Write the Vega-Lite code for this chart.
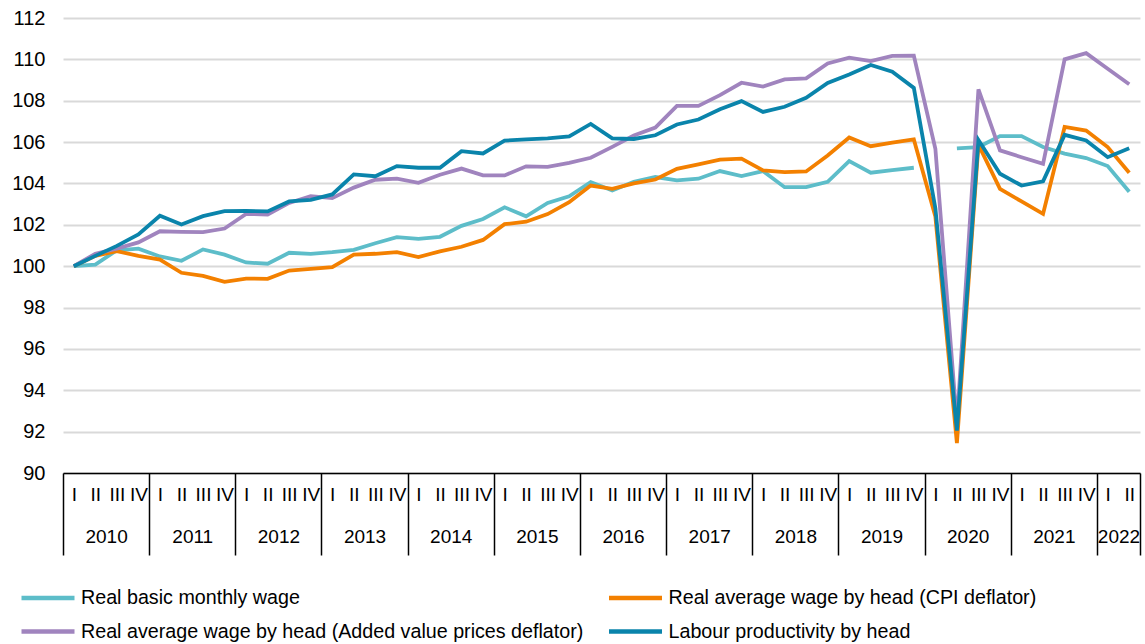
{
  "$schema": "https://vega.github.io/schema/vega-lite/v6.json",
  "width": 1077,
  "height": 455,
  "autosize": {"type": "none"},
  "padding": {"left": 63, "top": 18, "right": 5, "bottom": 171},
  "background": "white",
  "data": {
    "values": [
      {"q": 0, "basic": 100, "cpi": 100, "gva": 100, "prod": 100},
      {"q": 1, "basic": 100.08, "cpi": 100.5, "gva": 100.6, "prod": 100.5},
      {"q": 2, "basic": 100.77, "cpi": 100.73, "gva": 100.85, "prod": 100.98},
      {"q": 3, "basic": 100.85, "cpi": 100.5, "gva": 101.15, "prod": 101.53},
      {"q": 4, "basic": 100.47, "cpi": 100.32, "gva": 101.69, "prod": 102.44},
      {"q": 5, "basic": 100.26, "cpi": 99.68, "gva": 101.66, "prod": 102.02},
      {"q": 6, "basic": 100.81, "cpi": 99.53, "gva": 101.65, "prod": 102.42},
      {"q": 7, "basic": 100.56, "cpi": 99.24, "gva": 101.82, "prod": 102.66},
      {"q": 8, "basic": 100.18, "cpi": 99.4, "gva": 102.53, "prod": 102.67},
      {"q": 9, "basic": 100.12, "cpi": 99.39, "gva": 102.5, "prod": 102.65},
      {"q": 10, "basic": 100.65, "cpi": 99.79, "gva": 103.06, "prod": 103.13},
      {"q": 11, "basic": 100.6, "cpi": 99.87, "gva": 103.39, "prod": 103.21},
      {"q": 12, "basic": 100.68, "cpi": 99.95, "gva": 103.29, "prod": 103.47},
      {"q": 13, "basic": 100.79, "cpi": 100.56, "gva": 103.8, "prod": 104.44},
      {"q": 14, "basic": 101.11, "cpi": 100.6, "gva": 104.18, "prod": 104.35},
      {"q": 15, "basic": 101.4, "cpi": 100.68, "gva": 104.23, "prod": 104.84},
      {"q": 16, "basic": 101.32, "cpi": 100.44, "gva": 104.03, "prod": 104.76},
      {"q": 17, "basic": 101.42, "cpi": 100.72, "gva": 104.42, "prod": 104.76},
      {"q": 18, "basic": 101.95, "cpi": 100.94, "gva": 104.72, "prod": 105.56},
      {"q": 19, "basic": 102.28, "cpi": 101.27, "gva": 104.39, "prod": 105.45},
      {"q": 20, "basic": 102.85, "cpi": 102.03, "gva": 104.39, "prod": 106.07},
      {"q": 21, "basic": 102.41, "cpi": 102.15, "gva": 104.83, "prod": 106.13},
      {"q": 22, "basic": 103.06, "cpi": 102.52, "gva": 104.8, "prod": 106.18},
      {"q": 23, "basic": 103.38, "cpi": 103.09, "gva": 105.0, "prod": 106.28},
      {"q": 24, "basic": 104.07, "cpi": 103.9, "gva": 105.24, "prod": 106.88},
      {"q": 25, "basic": 103.66, "cpi": 103.74, "gva": 105.77, "prod": 106.18},
      {"q": 26, "basic": 104.08, "cpi": 104.0, "gva": 106.32, "prod": 106.15},
      {"q": 27, "basic": 104.31, "cpi": 104.19, "gva": 106.7, "prod": 106.33},
      {"q": 28, "basic": 104.15, "cpi": 104.71, "gva": 107.75, "prod": 106.85},
      {"q": 29, "basic": 104.23, "cpi": 104.92, "gva": 107.75, "prod": 107.09},
      {"q": 30, "basic": 104.6, "cpi": 105.15, "gva": 108.27, "prod": 107.59},
      {"q": 31, "basic": 104.36, "cpi": 105.2, "gva": 108.87, "prod": 107.98},
      {"q": 32, "basic": 104.6, "cpi": 104.63, "gva": 108.68, "prod": 107.46},
      {"q": 33, "basic": 103.82, "cpi": 104.55, "gva": 109.03, "prod": 107.71},
      {"q": 34, "basic": 103.82, "cpi": 104.58, "gva": 109.08, "prod": 108.14},
      {"q": 35, "basic": 104.08, "cpi": 105.35, "gva": 109.8, "prod": 108.86},
      {"q": 36, "basic": 105.08, "cpi": 106.22, "gva": 110.08, "prod": 109.27},
      {"q": 37, "basic": 104.52, "cpi": 105.8, "gva": 109.92, "prod": 109.73},
      {"q": 38, "basic": 104.65, "cpi": 105.97, "gva": 110.17, "prod": 109.4},
      {"q": 39, "basic": 104.76, "cpi": 106.13, "gva": 110.18, "prod": 108.62},
      {"q": 40, "basic": null, "cpi": 102.4, "gva": 105.68, "prod": 102.8},
      {"q": 41, "basic": 105.7, "cpi": 91.45, "gva": 92.4, "prod": 92.05},
      {"q": 42, "basic": 105.76, "cpi": 105.87, "gva": 108.55, "prod": 106.1},
      {"q": 43, "basic": 106.29, "cpi": 103.74, "gva": 105.6, "prod": 104.47},
      {"q": 44, "basic": 106.29, "cpi": 103.13, "gva": 105.27, "prod": 103.9},
      {"q": 45, "basic": 105.76, "cpi": 102.53, "gva": 104.95, "prod": 104.1},
      {"q": 46, "basic": 105.44, "cpi": 106.73, "gva": 110.0, "prod": 106.35},
      {"q": 47, "basic": 105.23, "cpi": 106.56, "gva": 110.3, "prod": 106.08},
      {"q": 48, "basic": 104.84, "cpi": 105.76, "gva": 109.55, "prod": 105.27},
      {"q": 49, "basic": 103.6, "cpi": 104.52, "gva": 108.8, "prod": 105.7}
    ]
  },
  "transform": [{"fold": ["basic", "cpi", "gva", "prod"], "as": ["series", "value"]}],
  "layer": [
    {
      "mark": {"type": "line", "strokeWidth": 3.8, "invalid": "break-paths-show-domains"},
      "encoding": {
        "x": {
          "field": "q", "type": "quantitative",
          "scale": {"domain": [-0.5, 49.5], "nice": false, "zero": false},
          "axis": {
            "orient": "bottom", "title": null,
            "values": [0,1,2,3,4,5,6,7,8,9,10,11,12,13,14,15,16,17,18,19,20,21,22,23,24,25,26,27,28,29,30,31,32,33,34,35,36,37,38,39,40,41,42,43,44,45,46,47,48,49],
            "labelExpr": "datum.value % 4 == 0 ? 'I' : (datum.value % 4 == 1 ? 'II' : (datum.value % 4 == 2 ? 'III' : 'IV'))",
            "ticks": false, "tickSize": 0, "grid": false,
            "domain": true, "domainColor": "#000000", "domainWidth": 1.5,
            "labelPadding": 12, "labelFontSize": 19, "labelColor": "#000000",
            "labelAngle": 0, "labelFlush": false, "labelOverlap": false
          }
        },
        "y": {
          "field": "value", "type": "quantitative",
          "scale": {"domain": [90, 112], "nice": false, "zero": false},
          "axis": {
            "title": null,
            "values": [90,92,94,96,98,100,102,104,106,108,110,112],
            "domain": false, "ticks": false, "tickSize": 0,
            "labelPadding": 18, "labelFontSize": 20, "labelColor": "#000000",
            "grid": true, "gridColor": "#d9d9d9", "gridWidth": 2
          }
        },
        "color": {
          "field": "series", "type": "nominal",
          "scale": {"domain": ["basic", "cpi", "gva", "prod"], "range": ["#5dbdc9", "#f38000", "#a084be", "#0a84ab"]},
          "legend": {
            "title": null, "orient": "none", "legendX": -27.5, "legendY": 567,
            "direction": "horizontal", "columns": 2, "columnPadding": 16.5, "rowPadding": 11,
            "symbolType": "M-2.65,0L2.65,0", "symbolSize": 400, "symbolStrokeWidth": 4.5,
            "labelFontSize": 19.7, "labelColor": "#000000", "labelOffset": 20.5, "labelLimit": 700,
            "labelExpr": "datum.label == 'basic' ? 'Real basic monthly wage' : (datum.label == 'cpi' ? 'Real average wage by head (CPI deflator)' : (datum.label == 'gva' ? 'Real average wage by head (Added value prices deflator)' : 'Labour productivity by head'))"
          }
        }
      }
    },
    {
      "mark": {"type": "point", "opacity": 0},
      "encoding": {
        "x": {
          "field": "q", "type": "quantitative",
          "scale": {"domain": [-0.5, 49.5], "nice": false, "zero": false},
          "axis": {
            "orient": "bottom", "title": null,
            "values": [1.5, 5.5, 9.5, 13.5, 17.5, 21.5, 25.5, 29.5, 33.5, 37.5, 41.5, 45.5, 48.5],
            "labelExpr": "'' + (2010 + floor(datum.value / 4))",
            "ticks": false, "tickSize": 0, "grid": false, "domain": false,
            "labelPadding": 54, "labelFontSize": 19, "labelColor": "#000000",
            "labelAngle": 0, "labelFlush": false, "labelOverlap": false
          }
        }
      }
    },
    {
      "mark": {"type": "point", "opacity": 0},
      "encoding": {
        "x": {
          "field": "q", "type": "quantitative",
          "scale": {"domain": [-0.5, 49.5], "nice": false, "zero": false},
          "axis": {
            "orient": "bottom", "title": null,
            "values": [-0.5, 3.5, 7.5, 11.5, 15.5, 19.5, 23.5, 27.5, 31.5, 35.5, 39.5, 43.5, 47.5, 49.5],
            "labels": false, "ticks": true, "tickSize": 82, "tickColor": "#000000", "tickWidth": 1.5,
            "grid": false, "domain": false
          }
        }
      }
    }
  ],
  "resolve": {"scale": {"x": "independent"}, "axis": {"x": "independent"}},
  "config": {
    "font": "Liberation Sans",
    "view": {"stroke": null}
  }
}
